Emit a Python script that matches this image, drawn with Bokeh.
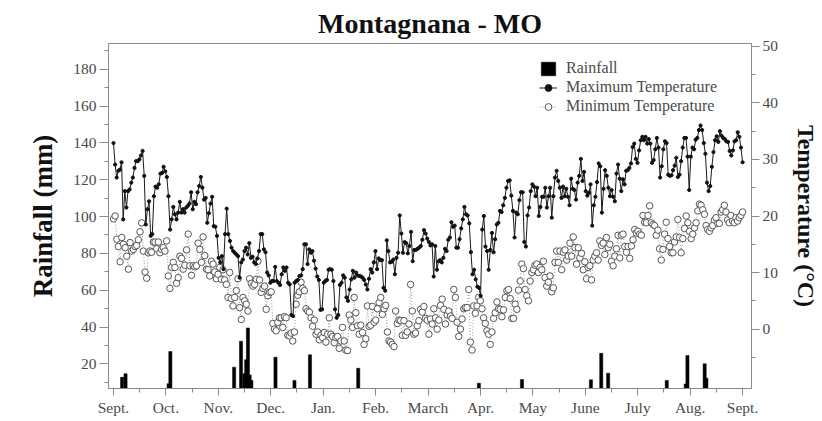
from bokeh.plotting import figure
from bokeh.models import (Range1d, LinearAxis, FixedTicker, Legend, LegendItem,
                          ColumnDataSource)
from bokeh.embed import file_html
from bokeh.resources import INLINE

# ---- data -------------------------------------------------------------
months = ["Sept.", "Oct.", "Nov.", "Dec.", "Jan.", "Feb.", "March",
          "Apr.", "May", "June", "July", "Aug.", "Sept."]

# daily rainfall events: day of the season (0 = 1 Sept) and amount in mm
rain_day = [5, 7, 32, 33, 70, 74, 76, 77, 78, 79, 80, 94, 105, 114, 142,
            212, 237, 277, 283, 287, 321, 332, 333, 343, 344]
rain_mm = [12.7, 14.6, 9.2, 26.7, 18.2, 32.3, 14.6, 22.2, 39.5, 14.0, 11.0,
           23.6, 11.0, 24.9, 17.6, 9.5, 11.5, 11.3, 25.7, 14.9, 11.0, 9.0,
           24.5, 20.0, 12.2]

# daily maximum temperature (°C), Sept -> Sept
tmax = [
    32.9, 29.1, 26.8, 28.0, 28.2, 29.5, 19.4, 24.4, 21.5, 24.4,
    24.7, 25.9, 26.8, 28.5, 29.7, 29.7, 30.0, 30.7, 31.5, 27.1,
    18.5, 21.2, 22.6, 16.5, 16.8, 23.5, 25.2, 25.0, 25.6, 27.5,
    27.6, 28.7, 27.9, 26.9, 23.5, 17.6, 19.4, 21.6, 20.3, 19.4,
    20.6, 22.5, 20.6, 21.2, 20.6, 21.5, 21.8, 22.2, 24.2, 21.2,
    22.5, 22.1, 24.2, 25.3, 26.9, 25.0, 22.9, 23.2, 18.8, 20.5,
    22.2, 23.4, 18.2, 18.1, 16.5, 12.6, 11.8, 12.9, 10.6, 16.8,
    21.3, 16.8, 15.6, 14.4, 13.8, 13.5, 13.2,
    12.9, 9.1, 11.8, 12.3, 13.8, 14.4, 13.2, 15.2, 12.6, 12.8,
    11.8, 11.5, 12.5, 13.8, 16.8, 16.8, 14.1, 13.6, 10.0, 9.5,
    8.2, 8.5, 8.5, 11.0, 8.5, 8.2, 7.8, 9.7, 10.9, 10.3,
    10.9, 8.2, 7.9, 2.5, 2.3, 8.2, 8.5, 8.7, 9.4, 9.5,
    10.6, 15.0, 15.0, 11.5, 14.1, 13.5, 13.8, 12.1, 10.7, 9.3,
    8.7, 3.4, 3.5, 8.2, 8.5, 8.7, 10.5, 10.6, 10.5, 8.5,
    3.5, 2.0, 2.5, 7.8, 8.2, 9.5, 9.1, 5.6, 5.0, 7.0,
    8.8, 10.3, 9.1, 10.0, 9.5, 9.4, 9.3,
    9.1, 8.7, 7.9, 7.0, 8.9, 10.6, 10.0, 11.8, 13.8, 10.6,
    12.5, 12.2, 12.2, 7.3, 6.8, 15.7, 13.8, 11.8, 11.9, 12.3,
    9.7, 12.6, 13.5, 20.1, 16.9, 13.5, 15.4, 15.2, 13.4, 14.7,
    17.2, 12.0, 14.0, 14.0, 14.2, 14.4, 14.7, 15.8, 17.5, 16.9,
    16.0, 15.4, 14.8, 15.0, 9.3, 14.7, 10.5, 12.0, 12.2, 11.8,
    12.6, 14.2, 13.8, 15.8, 16.2, 18.9, 18.1, 18.3, 14.4, 14.4,
    15.9, 17.8, 19.4, 21.6, 20.3, 20.1, 18.7, 13.6, 9.7, 10.5,
    8.8, 7.5, 7.3, 5.9, 17.6, 20.0, 14.6, 13.8, 10.5, 14.0, 17.0,
    13.6, 15.9, 18.5, 18.8, 20.9, 20.7, 21.9, 23.2, 25.0, 26.2,
    26.3, 23.6, 20.9, 16.2, 20.6, 20.3, 22.8, 24.2, 24.2, 15.4,
    14.6, 20.1, 21.5, 24.4, 25.6, 25.2, 23.5, 25.0, 20.0, 21.6,
    23.4, 23.4, 25.0, 21.5, 23.5, 25.0, 19.7, 23.5, 26.8, 28.0,
    26.2, 25.0, 23.2, 25.2, 23.5, 24.8, 23.4, 21.9, 26.6, 24.8,
    24.6, 22.9, 25.9, 27.1, 30.1, 26.2, 27.8, 24.4, 23.6, 24.1,
    25.6, 18.3, 21.9, 23.4, 26.0, 29.3, 28.8, 20.6, 24.8, 28.1,
    27.1, 25.0, 23.5, 24.6, 23.4, 22.6, 27.5, 29.1, 26.6,
    24.4, 26.5, 25.6, 28.0, 28.1, 28.5, 29.3, 32.2, 32.8, 30.1,
    29.4, 31.6, 33.4, 34.0, 33.4, 34.0, 32.8, 33.6, 32.8, 29.4,
    29.9, 31.8, 33.8, 32.1, 26.8, 28.8, 31.8, 33.2, 32.9, 27.3,
    27.1, 27.2, 28.1, 28.9, 30.3, 26.9, 27.3, 29.7, 32.1, 33.8,
    33.8, 30.5, 24.6, 30.5, 32.1, 31.8, 33.5, 33.8, 35.2, 36.0,
    35.2, 32.9, 31.0, 25.9, 24.4, 25.3, 28.7, 31.3, 33.4, 34.1,
    33.1, 35.0, 34.2, 33.8, 33.6, 33.2, 33.1, 31.5, 30.7, 31.6,
    33.2, 33.4, 34.8, 34.0, 32.1, 29.5,
]

# daily minimum temperature (°C), Sept -> Sept
tmin = [
    19.5, 20.0, 15.9, 14.6, 11.9, 16.2, 15.0, 14.4, 12.9, 10.6,
    15.3, 13.8, 14.1, 14.6, 14.8, 15.8, 17.2, 18.8, 13.8, 10.1,
    9.0, 13.5, 13.8, 13.6, 15.4, 15.4, 14.2, 15.4, 13.5, 14.1,
    14.4, 13.8, 15.6, 9.4, 7.2, 10.9, 11.8, 10.9, 8.1, 9.1,
    12.9, 12.5, 10.6, 11.3, 14.0, 16.8, 11.2, 9.5, 11.2, 11.0,
    11.2, 15.2, 14.1, 11.8, 16.3, 13.0, 10.6, 10.5, 9.4, 12.0,
    11.5, 10.1, 8.9, 9.7, 10.9, 8.8, 10.5, 8.7, 7.9, 5.6,
    10.0, 5.4, 4.1,
    5.6, 6.8, 8.9, 3.8, 1.7, 5.6, 5.0, 4.4, 3.2, 8.9,
    8.1, 7.6, 7.9, 8.8, 12.0, 8.7, 6.5, 7.2, 7.6, 3.5,
    5.9, 6.5, 6.6, 1.0, 0.0, -0.3, 1.2, 2.0, 2.0, 0.3,
    2.2, 2.0, -1.1, -1.2, -0.7, -2.1, -0.5, 4.4, 6.0, 6.6,
    8.3, 7.2, 6.8, 3.6, 3.2, 3.0, 2.0, 0.5, 1.6, -0.9,
    -0.5, -1.9, -1.1, -1.5, -0.6, -2.3, -0.9, 2.0, -0.9, -1.3,
    -2.4, -1.5, -1.3, -3.4, -2.1, 0.3, -2.1, -3.7, -3.8, 2.5,
    1.6, 0.3, 5.6, 2.9, 0.6, -0.9, 0.7,
    -0.6, -2.7, -1.7, 4.1, 0.5, 0.7, 4.0, 1.2, 1.6, 3.6,
    4.7, 5.6, 2.6, 3.6, 4.2, -0.5, -2.1, -2.3, -2.7, -3.1,
    3.2, 1.0, 1.6, 1.5, -1.1, 1.5, -1.1, -0.5, 0.9, 7.9,
    3.2, -0.9, -0.7, 0.6, 1.5, 3.5, 3.0, 4.0, 1.9, 1.6,
    -0.9, 1.8, 0.9, 3.6, 2.0, 0.0, 1.6, 4.2, 5.3, 3.5,
    0.9, 2.5, 3.2, 2.3, 1.9, 7.0, 5.6, 1.2, -1.3, 0.0,
    1.8, 3.6, 3.8, 3.8, 7.0, -2.3, -3.7, 4.1, 2.8, 4.1,
    5.6, 5.0, 3.6, 2.0, 1.0, -0.3, -0.9,
    -2.7, -0.5, 1.9, 2.9, 4.8, 3.6, 3.5, 2.2, 3.4, 5.6,
    6.8, 7.0, 5.4, 1.9, 1.9, 4.4, 3.5, 6.9, 8.5, 11.5,
    10.7, 7.0, 5.9, 5.0, 8.5, 10.0, 10.5, 11.3, 11.5, 10.0,
    10.9, 10.5, 12.0, 9.1, 7.6, 8.3, 9.4, 6.6, 7.3, 11.8,
    13.8, 11.8, 13.8, 10.5, 13.6, 14.0, 12.2, 12.9, 15.2, 12.9,
    16.3, 14.4, 11.5, 14.4, 12.6, 13.4, 10.5, 11.9, 8.9, 10.9,
    11.2, 8.7, 12.2, 12.9, 13.5, 12.2, 15.6, 14.8, 15.2, 13.2,
    16.2, 14.4, 15.0, 12.0, 11.2, 12.9, 14.2, 16.6,
    12.6, 16.6, 16.8, 14.6, 13.6, 14.6, 12.5, 14.7, 15.8, 17.6,
    17.0, 17.3, 16.8, 16.6, 20.1, 18.9, 18.8, 20.1, 21.8, 18.8,
    18.5, 18.3, 16.6, 17.5, 14.2, 12.2, 14.1, 16.8, 18.9, 16.0,
    14.6, 13.5, 13.5, 15.4, 16.3, 19.4, 16.2, 13.5, 16.0, 17.8,
    20.0, 18.8, 17.3, 16.0, 16.8, 17.9, 18.8, 20.9, 22.1, 21.9,
    21.1, 20.3, 18.3, 17.6, 17.3, 17.9, 18.3, 19.3, 19.7, 18.7,
    18.7, 20.7, 21.1, 21.9, 20.7, 19.3, 18.8, 20.1, 19.1, 18.8,
    19.7, 19.1, 19.7, 20.1, 20.7,
]

# ---- positions along the season, in month units (0 = 1 Sept) ---------
DAYS = 365.0
rain_x = [d / DAYS * 12 for d in rain_day]
tmax_x = [i * 12.0 / (len(tmax) - 1) for i in range(len(tmax))]
tmin_x = [i * 12.0 / (len(tmin) - 1) for i in range(len(tmin))]

SERIF = "Liberation Serif"
AXIS_GREY = "#8a8a8a"
TEXT_GREY = "#4a4a4a"

p = figure(width=822, height=421, output_backend="svg", toolbar_location=None,
           x_range=Range1d(-0.095, 12.17), y_range=Range1d(6.6, 194),
           min_border_left=108, min_border_right=69,
           min_border_top=42, min_border_bottom=33)
p.extra_y_ranges = {"temp": Range1d(-10.5, 50.5)}

p.title.text = "Montagnana - MO"
p.title.align = "center"
p.title.text_font = SERIF
p.title.text_font_size = "28px"
p.title.text_font_style = "bold"
p.title.text_color = "#111111"
p.title.offset = 0

p.grid.visible = False
p.background_fill_color = "white"
p.border_fill_color = "white"
p.outline_line_color = AXIS_GREY
p.outline_line_width = 1

# rainfall bars on the left axis
rain_src = ColumnDataSource(dict(x=rain_x, top=rain_mm))
bars = p.vbar(x="x", top="top", bottom=0, width=0.06, source=rain_src,
              fill_color="black", line_color="black", line_width=0.5)

# minimum temperature: dotted grey line with open circles
tmin_src = ColumnDataSource(dict(x=tmin_x, y=tmin))
min_line = p.line("x", "y", source=tmin_src, y_range_name="temp",
                  line_color="#9a9a9a", line_width=1, line_dash="1 2")
min_pts = p.scatter("x", "y", source=tmin_src, y_range_name="temp",
                    marker="circle", size=6.5, fill_color="white",
                    line_color="#555555", line_width=1)

# maximum temperature: solid black line with small filled dots
tmax_src = ColumnDataSource(dict(x=tmax_x, y=tmax))
max_line = p.line("x", "y", source=tmax_src, y_range_name="temp",
                  line_color="#1a1a1a", line_width=1)
max_pts = p.scatter("x", "y", source=tmax_src, y_range_name="temp",
                    marker="circle", size=3.2, fill_color="#111111",
                    line_color="#111111")

# ---- axes ---------------------------------------------------------------
def style_axis(ax, label_size):
    ax.axis_line_color = AXIS_GREY
    ax.major_tick_line_color = AXIS_GREY
    ax.minor_tick_line_color = AXIS_GREY
    ax.major_label_text_font = SERIF
    ax.major_label_text_font_size = "15.5px"
    ax.major_label_text_color = TEXT_GREY
    ax.axis_label_text_font = SERIF
    ax.axis_label_text_font_size = label_size
    ax.axis_label_text_font_style = "bold"
    ax.axis_label_text_color = "#111111"

xa = p.xaxis[0]
style_axis(xa, "22px")
xa.ticker = FixedTicker(ticks=list(range(13)),
                        minor_ticks=[m + 0.5 for m in range(12)])
xa.major_label_overrides = {i: lab for i, lab in enumerate(months)}
xa.major_tick_out = 7
xa.major_tick_in = 0
xa.minor_tick_out = 4
xa.minor_tick_in = 0
xa.major_label_standoff = 3

ya = p.yaxis[0]
style_axis(ya, "27px")
ya.ticker = FixedTicker(ticks=list(range(20, 181, 20)),
                        minor_ticks=list(range(10, 191, 20)))
ya.axis_label = "Rainfall (mm)"
ya.major_tick_out = 9
ya.major_tick_in = 0
ya.minor_tick_out = 4
ya.minor_tick_in = 0
ya.major_label_standoff = 3
ya.axis_label_standoff = 12

ta = LinearAxis(y_range_name="temp", axis_label="Temperature (°C)")
style_axis(ta, "24px")
ta.ticker = FixedTicker(ticks=list(range(0, 51, 10)),
                        minor_ticks=list(range(-5, 50, 10)))
ta.major_tick_out = 8
ta.major_tick_in = 0
ta.minor_tick_out = 4
ta.minor_tick_in = 0
ta.major_label_standoff = 3
ta.axis_label_standoff = 12
p.add_layout(ta, "right")

# ---- legend -------------------------------------------------------------
legend = Legend(items=[
    LegendItem(label="Rainfall", renderers=[bars]),
    LegendItem(label="Maximum Temperature", renderers=[max_line, max_pts]),
    LegendItem(label="Minimum Temperature", renderers=[min_line, min_pts]),
], location=(431, 273))
legend.label_text_font = SERIF
legend.label_text_font_size = "16px"
legend.label_text_color = TEXT_GREY
legend.glyph_width = 18
legend.glyph_height = 17
legend.label_height = 18
legend.label_standoff = 9
legend.spacing = 1
legend.padding = 0
legend.margin = 0
legend.border_line_color = None
legend.background_fill_alpha = 0
p.add_layout(legend)

open("out.html", "w").write(file_html(p, INLINE))
